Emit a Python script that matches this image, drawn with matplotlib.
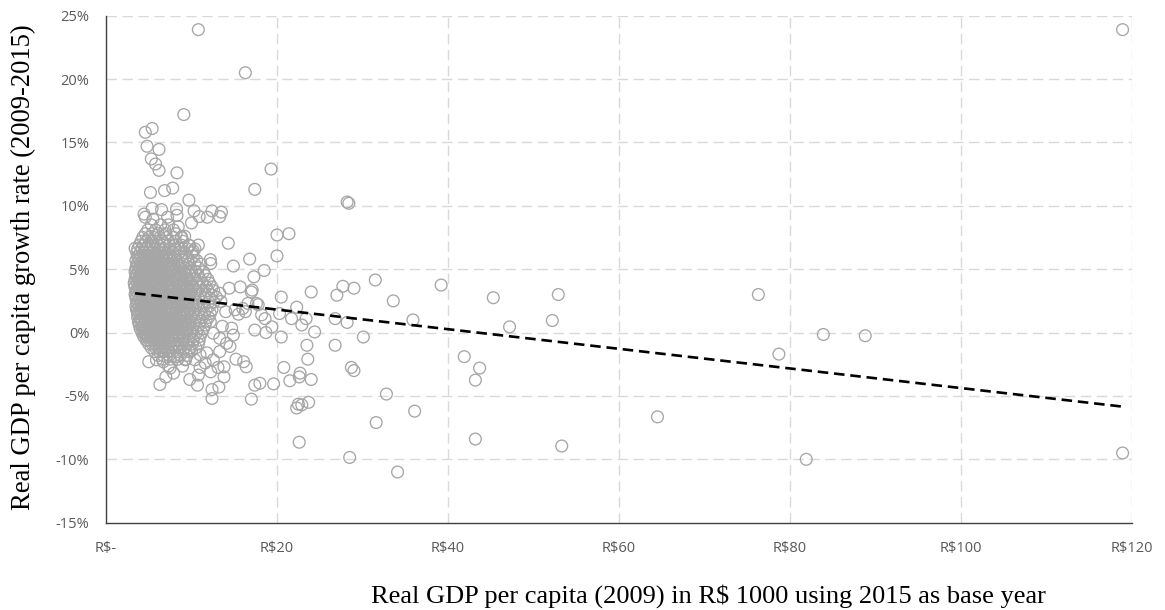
import matplotlib
matplotlib.use("Agg")
import matplotlib.pyplot as plt
import numpy as np

plt.rcParams['text.parse_math'] = False

# ---- Data (x: real GDP per capita 2009 in R$1000, y: growth rate %) ----
# Dense core of the cloud, read row by row (y level -> x positions)
core_rows_y = [8.5, 8.1, 7.8, 7.5, 7.2, 6.9, 6.6, 6.3, 6.0, 5.7, 5.4, 5.1, 4.8, 4.5, 4.2,
               3.9, 3.6, 3.3, 3.0, 2.7, 2.4, 2.1, 1.8, 1.5, 1.2, 0.9, 0.6, 0.3, 0.0,
               -0.3, -0.6, -0.9, -1.2, -1.5, -1.8, -2.1]
core_rows_x = [
    [5.3, 6.4, 7.3],
    [4.9, 5.8, 6.9, 7.9],
    [4.6, 5.4, 6.1, 7.0, 8.2],
    [4.3, 5.0, 5.6, 6.3, 7.1, 7.8, 8.8],
    [4.1, 4.7, 5.3, 5.9, 6.6, 7.3, 8.1, 9.0],
    [3.9, 4.4, 5.0, 5.5, 6.1, 6.7, 7.4, 8.0, 8.8, 9.7],
    [3.7, 4.2, 4.7, 5.2, 5.7, 6.3, 6.8, 7.4, 8.1, 8.7, 9.5, 10.4],
    [3.6, 4.0, 4.4, 4.9, 5.3, 5.8, 6.2, 6.7, 7.2, 7.8, 8.5, 9.2, 10.1],
    [3.7, 4.1, 4.5, 4.9, 5.3, 5.7, 6.1, 6.6, 7.0, 7.5, 8.1, 8.7, 9.4, 10.2],
    [3.5, 3.9, 4.3, 4.7, 5.1, 5.5, 5.9, 6.3, 6.8, 7.2, 7.7, 8.3, 8.9, 9.6, 10.6],
    [3.6, 4.0, 4.4, 4.8, 5.2, 5.6, 6.0, 6.4, 6.9, 7.4, 7.9, 8.4, 9.0, 9.7, 10.4, 11.1],
    [3.5, 3.9, 4.3, 4.7, 5.1, 5.5, 5.9, 6.3, 6.7, 7.2, 7.6, 8.1, 8.7, 9.3, 9.9, 10.8],
    [3.4, 3.8, 4.2, 4.6, 5.0, 5.4, 5.8, 6.2, 6.6, 7.0, 7.5, 8.0, 8.5, 9.1, 9.8, 10.5, 11.4],
    [3.5, 3.9, 4.3, 4.7, 5.1, 5.5, 5.9, 6.3, 6.7, 7.2, 7.7, 8.2, 8.8, 9.4, 10.0, 10.8, 11.6],
    [3.4, 3.8, 4.2, 4.6, 5.0, 5.4, 5.8, 6.2, 6.6, 7.0, 7.4, 7.9, 8.4, 8.9, 9.5, 10.2, 11.0, 11.9],
    [3.3, 3.7, 4.1, 4.5, 4.9, 5.3, 5.7, 6.1, 6.5, 6.9, 7.3, 7.8, 8.3, 8.8, 9.3, 9.9, 10.6, 11.3, 12.1],
    [3.4, 3.8, 4.2, 4.6, 5.0, 5.4, 5.8, 6.2, 6.6, 7.1, 7.5, 8.0, 8.5, 9.0, 9.6, 10.2, 10.9, 11.7, 12.4],
    [3.5, 3.9, 4.3, 4.7, 5.1, 5.5, 5.9, 6.3, 6.7, 7.1, 7.5, 7.9, 8.4, 8.9, 9.4, 10.0, 10.6, 11.2, 11.9, 12.6],
    [3.4, 3.8, 4.2, 4.6, 5.0, 5.4, 5.8, 6.2, 6.6, 7.0, 7.4, 7.8, 8.3, 8.8, 9.3, 9.8, 10.4, 11.0, 11.6, 12.3],
    [3.5, 3.9, 4.3, 4.7, 5.1, 5.5, 5.9, 6.3, 6.7, 7.1, 7.6, 8.1, 8.6, 9.1, 9.6, 10.2, 10.8, 11.5, 12.2],
    [3.6, 4.0, 4.4, 4.8, 5.2, 5.6, 6.0, 6.4, 6.8, 7.2, 7.6, 8.0, 8.5, 9.0, 9.5, 10.0, 10.6, 11.3, 12.0, 12.6],
    [3.5, 3.9, 4.3, 4.7, 5.1, 5.5, 5.9, 6.3, 6.7, 7.1, 7.5, 8.0, 8.5, 9.0, 9.5, 10.1, 10.7, 11.4, 12.1],
    [3.6, 4.0, 4.4, 4.8, 5.2, 5.6, 6.0, 6.4, 6.8, 7.2, 7.7, 8.2, 8.7, 9.2, 9.8, 10.4, 11.0, 11.7, 12.4],
    [3.7, 4.1, 4.5, 4.9, 5.3, 5.7, 6.1, 6.5, 6.9, 7.3, 7.7, 8.1, 8.6, 9.1, 9.6, 10.2, 10.8, 11.5, 12.2],
    [3.7, 4.1, 4.5, 4.9, 5.3, 5.7, 6.1, 6.5, 6.9, 7.4, 7.9, 8.4, 8.9, 9.4, 10.0, 10.6, 11.3, 12.0],
    [3.8, 4.2, 4.6, 5.0, 5.4, 5.8, 6.2, 6.6, 7.0, 7.4, 7.8, 8.3, 8.8, 9.3, 9.8, 10.4, 11.0, 11.7],
    [3.9, 4.3, 4.7, 5.1, 5.5, 5.9, 6.3, 6.7, 7.1, 7.6, 8.1, 8.6, 9.1, 9.7, 10.3, 10.9, 11.6],
    [4.0, 4.4, 4.8, 5.2, 5.6, 6.0, 6.4, 6.8, 7.2, 7.6, 8.0, 8.5, 9.0, 9.5, 10.1, 10.7, 11.4],
    [4.2, 4.6, 5.0, 5.4, 5.8, 6.2, 6.6, 7.0, 7.4, 7.9, 8.4, 8.9, 9.4, 10.0, 10.6, 11.2],
    [4.4, 4.8, 5.2, 5.6, 6.0, 6.4, 6.8, 7.2, 7.6, 8.1, 8.6, 9.1, 9.7, 10.3, 11.0],
    [4.7, 5.1, 5.5, 5.9, 6.3, 6.7, 7.1, 7.5, 8.0, 8.5, 9.0, 9.6, 10.2, 10.9],
    [5.0, 5.4, 5.8, 6.2, 6.6, 7.0, 7.4, 7.9, 8.4, 8.9, 9.5, 10.1, 10.8],
    [5.3, 5.8, 6.2, 6.6, 7.1, 7.6, 8.1, 8.6, 9.2, 9.8, 10.5],
    [5.7, 6.2, 6.7, 7.2, 7.8, 8.4, 9.0, 9.7],
    [6.1, 6.7, 7.4, 8.0, 8.7, 9.5],
    [6.6, 7.5, 8.4, 9.3],
]

# Extra in-between rows where the cloud is densest
dense_rows_y = [5.85, 5.25, 4.65, 4.05, 3.45, 2.85, 2.25, 1.65, 1.05, 0.45, -0.15]
dense_rows_x = [
    [3.8, 4.4, 5.0, 5.7, 6.4, 7.1, 7.9],
    [3.7, 4.2, 4.8, 5.4, 6.0, 6.6, 7.3, 8.0, 8.8],
    [3.6, 4.1, 4.6, 5.2, 5.8, 6.4, 7.0, 7.7, 8.5, 9.3],
    [3.6, 4.1, 4.7, 5.3, 5.9, 6.5, 7.1, 7.8, 8.6, 9.5],
    [3.7, 4.2, 4.8, 5.4, 6.0, 6.6, 7.3, 8.0, 8.7, 9.6],
    [3.6, 4.2, 4.8, 5.4, 6.0, 6.7, 7.4, 8.1, 8.9, 9.8],
    [3.7, 4.3, 4.9, 5.5, 6.1, 6.8, 7.5, 8.2, 9.0],
    [3.8, 4.4, 5.0, 5.6, 6.2, 6.9, 7.6, 8.3, 9.1],
    [4.0, 4.6, 5.2, 5.8, 6.4, 7.1, 7.8, 8.6],
    [4.2, 4.8, 5.4, 6.0, 6.6, 7.3, 8.0, 8.8],
    [4.6, 5.2, 5.8, 6.4, 7.0, 7.7, 8.5],
]

# Scattered municipalities near the cloud (x, y)
near_pts = [
    (10.8, 23.9), (16.3, 20.5), (9.1, 17.2), (4.6, 15.8), (5.4, 16.1), (4.8, 14.7),
    (6.2, 14.45), (5.3, 13.7), (5.8, 13.3), (6.2, 12.8), (8.3, 12.6), (19.3, 12.9),
    (17.4, 11.3), (5.2, 11.05), (6.85, 11.2), (7.8, 11.4), (9.7, 10.45),
    (4.45, 9.35), (4.6, 9.1), (5.4, 9.8), (5.5, 8.95), (6.5, 9.7), (7.2, 9.1),
    (8.25, 9.75), (8.3, 9.25), (10.3, 9.6), (10.9, 9.15), (11.85, 9.1), (12.4, 9.6),
    (13.5, 9.5), (13.3, 9.15), (10.0, 8.65), (8.45, 8.35), (8.85, 7.55), (9.2, 7.6),
    (10.8, 6.9), (9.8, 6.85), (10.2, 6.45), (14.3, 7.05), (3.4, 6.65), (12.2, 5.75),
    (12.25, 5.45), (14.9, 5.25), (16.8, 5.8), (15.7, 3.6), (14.4, 3.5), (13.3, 3.1),
    (12.9, 2.8), (13.45, 2.45), (14.0, 1.65), (15.1, 1.8), (15.5, 1.45), (16.3, 1.65),
    (16.6, 2.3), (17.6, 2.3), (17.8, 2.2), (16.0, 1.9), (17.0, 3.2), (17.1, 3.35),
    (13.6, 0.5), (12.2, 0.85), (12.55, -0.05), (14.7, 0.35), (14.9, -0.2), (13.3, -0.45),
    (14.1, -0.85), (14.5, -1.1), (13.3, -1.5), (11.8, -1.6), (12.55, -2.15), (11.6, -2.4),
    (11.0, -2.75), (12.25, -3.1), (13.1, -2.75), (13.8, -2.7), (13.8, -3.5), (10.8, -3.35),
    (9.8, -3.7), (10.7, -4.15), (12.4, -4.5), (13.2, -4.3), (12.4, -5.2), (7.0, -3.5),
    (7.9, -3.2), (7.5, -2.8), (6.3, -4.1), (5.0, -2.3), (5.9, -2.15), (4.4, -0.05),
    (4.8, -0.6), (3.8, 0.85), (3.6, 1.8), (3.4, 3.6), (8.95, -2.65), (9.3, -2.15),
    (10.4, -2.15), (11.0, -1.75), (10.0, -1.45), (8.3, -1.9), (6.7, -2.3), (7.3, -2.65),
    (16.1, -2.3), (16.4, -2.7), (15.2, -2.1), (17.4, -4.15), (18.0, -4.0), (17.0, -5.25),
]

# Municipalities between R$17k and R$35k (x, y)
mid_pts = [
    (28.2, 10.3), (28.4, 10.2), (20.0, 7.7), (21.4, 7.8), (20.0, 6.05), (17.3, 4.4),
    (18.5, 4.9), (20.5, 2.8), (22.3, 2.0), (18.2, 1.4), (18.6, 1.1), (20.3, 1.5),
    (21.7, 1.1), (23.4, 1.1), (19.4, 0.45), (17.4, 0.2), (18.7, 0.0), (22.9, 0.6),
    (24.4, 0.05), (26.8, 1.1), (28.2, 0.8), (30.1, -0.35), (20.5, -0.35), (23.5, -1.0),
    (26.8, -1.0), (23.6, -2.1), (20.8, -2.75), (22.7, -3.2), (22.6, -3.5), (21.5, -3.8),
    (24.0, -3.7), (28.7, -2.75), (29.0, -3.0), (19.6, -4.05), (22.3, -5.95), (22.5, -5.65),
    (22.9, -5.7), (23.7, -5.5), (22.6, -8.65), (28.5, -9.85), (31.6, -7.1), (32.8, -4.85),
    (34.1, -11.0), (24.0, 3.2), (27.0, 2.95), (27.7, 3.65), (29.0, 3.5), (31.5, 4.15),
    (33.6, 2.5),
]

# High-income municipalities (x, y)
far_pts = [
    (39.2, 3.75), (35.9, 1.0), (45.3, 2.75), (47.2, 0.45), (52.9, 3.0), (52.2, 0.95),
    (41.9, -1.9), (43.7, -2.8), (43.2, -3.75), (36.1, -6.2), (43.2, -8.4), (53.3, -8.95),
    (64.5, -6.65), (76.3, 3.0), (78.7, -1.7), (83.9, -0.15), (88.8, -0.25), (81.9, -10.0),
    (118.9, -9.5), (118.9, 23.9),
]

# Linear trend line end points
trend_x = [3.4, 119.0]
trend_y = [3.1, -5.85]

x_ticks = [0, 20, 40, 60, 80, 100, 120]
x_tick_labels = ['R$-', 'R$20', 'R$40', 'R$60', 'R$80', 'R$100', 'R$120']
y_ticks = [-15, -10, -5, 0, 5, 10, 15, 20, 25]
y_tick_labels = ['-15%', '-10%', '-5%', '0%', '5%', '10%', '15%', '20%', '25%']

# ---- Assemble points ----
xs, ys = [], []
for rows_y, rows_x in ((core_rows_y, core_rows_x), (dense_rows_y, dense_rows_x)):
    for yv, row in zip(rows_y, rows_x):
        for xv in row:
            xs.append(xv)
            ys.append(yv)
for grp in (near_pts, mid_pts, far_pts):
    for xv, yv in grp:
        xs.append(xv)
        ys.append(yv)

# ---- Figure ----
W, H, DPI = 1165, 610, 100
fig = plt.figure(figsize=(W / DPI, H / DPI), dpi=DPI)
ax = fig.add_axes([106 / W, 1 - 522.7 / H, (1132 - 106) / W, (522.7 - 15.7) / H])

grid_col = '#D9D9D9'
for xv in x_ticks[1:]:
    ax.axvline(xv, color=grid_col, lw=1.0, ls=(0, (7.5, 4)), zorder=0)
for yv in y_ticks[1:]:
    ax.axhline(yv, color=grid_col, lw=1.0, ls=(0, (7.5, 4)), zorder=0)

ax.scatter(xs, ys, s=72, facecolors='none', edgecolors='#A6A6A6', linewidths=0.95, zorder=2)

ax.plot(trend_x, trend_y, color='black', lw=1.9, ls=(0, (4, 2.2)), zorder=3)

ax.set_xlim(0, 120)
ax.set_ylim(-15, 25)
ax.set_xticks(x_ticks)
ax.set_xticklabels(x_tick_labels)
ax.set_yticks(y_ticks)
ax.set_yticklabels(y_tick_labels)

for s in ('top', 'right'):
    ax.spines[s].set_visible(False)
for s in ('left', 'bottom'):
    ax.spines[s].set_color('#404040')
    ax.spines[s].set_linewidth(1.0)

ax.tick_params(axis='both', length=0, labelsize=10.5, labelcolor='#595959')
ax.tick_params(axis='x', pad=13)
ax.tick_params(axis='y', pad=12)
for lab in ax.get_xticklabels() + ax.get_yticklabels():
    lab.set_family(['Open Sans', 'DejaVu Sans'])

serif = ['Liberation Serif', 'DejaVu Serif']
fig.text(23 / W, 1 - 267 / H, 'Real GDP per capita growth rate (2009-2015)',
         family=serif, fontsize=19.2, rotation=90, ha='center', va='center', color='black')
fig.text(708 / W, 1 - 596 / H, 'Real GDP per capita (2009) in R$ 1000 using 2015 as base year',
         family=serif, fontsize=19, ha='center', va='center', color='black')

fig.savefig('out.png', dpi=DPI)
